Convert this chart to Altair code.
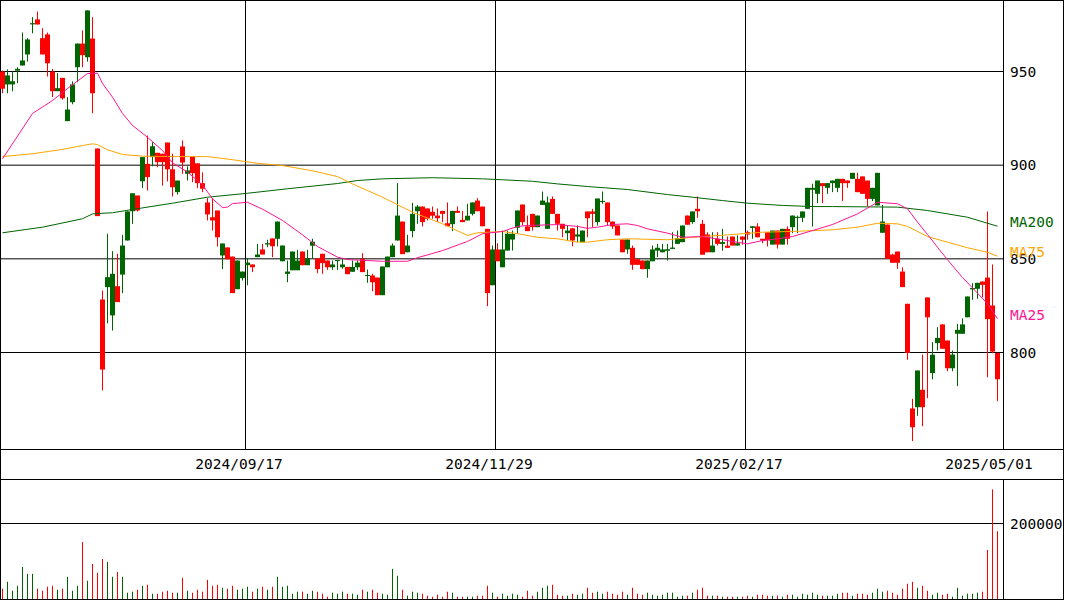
import altair as alt
import numpy as np
import pandas as pd

# Daily quotes, one row per trading session (2024-07-08 ... 2025-05-01)
open_ = [
    950.0, 943.1, 943.1, 950.5, 953.2, 959.1, 975.3, 977.8, 967.8, 969.8,
    950.0, 939.5, 946.6, 923.5, 933.6, 952.3, 964.9, 957.6, 967.6, 908.9,
    828.3, 834.9, 819.8, 835.4, 841.6, 859.8, 875.4, 883.8, 891.4, 900.7,
    904.3, 906.6, 906.1, 912.1, 897.8, 885.6, 910.0, 895.4, 904.6, 901.0,
    890.4, 880.1, 872.2, 875.8, 851.8, 856.1, 851.2, 833.8, 839.7, 846.6,
    847.0, 850.9, 855.0, 857.8, 860.9, 860.7, 848.7, 842.0, 843.9, 843.9,
    853.9, 846.6, 857.0, 850.2, 852.7, 849.1, 845.5, 848.9, 845.5, 845.7,
    843.1, 845.5, 850.0, 840.9, 841.1, 840.0, 830.6, 845.5, 850.9, 859.8,
    869.9, 853.5, 864.8, 875.4, 877.9, 876.9, 875.1, 873.1, 875.6, 869.0,
    868.5, 875.6, 870.8, 870.5, 874.0, 881.1, 877.9, 866.0, 835.9, 855.0,
    845.5, 854.4, 860.3, 866.6, 879.0, 867.3, 874.0, 866.9, 878.8, 866.0,
    882.0, 874.0, 868.7, 863.7, 866.3, 861.9, 858.9, 875.3, 875.3, 869.6,
    880.5, 880.1, 869.9, 867.8, 860.3, 855.0, 855.9, 849.8, 849.1, 844.5,
    848.7, 854.4, 853.5, 854.4, 855.4, 858.0, 858.9, 873.1, 869.6, 876.7,
    868.7, 863.0, 853.5, 860.7, 858.0, 857.0, 861.9, 857.1, 861.9, 864.2,
    866.6, 867.3, 860.7, 864.2, 857.6, 865.1, 857.6, 866.0, 866.9, 872.0,
    871.9, 876.7, 886.9, 884.7, 890.4, 887.9, 890.4, 887.9, 892.7, 891.8,
    892.7, 892.7, 894.0, 891.8, 882.0, 878.5, 863.9, 868.3, 852.3, 853.9,
    843.2, 826.0, 770.1, 770.8, 780.1, 829.4, 789.0, 805.0, 815.0, 806.4,
    791.6, 810.0, 810.0, 818.8, 833.8, 834.0, 837.9, 840.0, 825.1, 799.8,
]
high = [
    950.5, 951.1, 950.0, 952.3, 970.8, 967.8, 979.0, 982.0, 973.1, 970.8,
    951.4, 949.1, 946.6, 936.3, 944.7, 964.9, 971.9, 982.6, 979.0, 908.9,
    833.1, 863.4, 854.1, 852.7, 862.8, 875.3, 885.0, 883.8, 904.3, 915.8,
    912.3, 906.6, 906.1, 912.1, 906.1, 891.8, 913.2, 899.4, 904.6, 901.0,
    896.2, 882.4, 882.4, 875.8, 858.2, 856.1, 851.2, 849.1, 843.2, 850.3,
    847.0, 858.0, 858.0, 860.2, 860.9, 869.9, 857.1, 849.1, 853.9, 854.8,
    853.9, 854.8, 860.7, 850.2, 852.7, 849.1, 849.1, 849.2, 850.0, 845.7,
    849.1, 849.1, 853.0, 844.3, 842.0, 840.0, 845.9, 851.2, 858.2, 890.4,
    869.9, 862.8, 879.9, 878.8, 877.9, 876.9, 877.9, 876.9, 875.6, 880.1,
    875.6, 877.9, 875.6, 879.4, 880.1, 882.4, 877.9, 866.0, 857.1, 858.3,
    865.1, 865.1, 865.1, 875.8, 879.0, 873.1, 874.0, 873.1, 885.9, 883.3,
    883.3, 874.0, 868.7, 867.8, 866.3, 867.8, 865.1, 875.3, 876.7, 882.2,
    885.9, 880.1, 869.9, 867.8, 860.3, 860.3, 857.1, 849.8, 849.1, 849.1,
    857.1, 858.0, 858.0, 858.0, 864.2, 865.1, 867.8, 873.1, 875.3, 883.3,
    870.8, 864.2, 864.2, 864.2, 866.0, 861.9, 861.9, 862.5, 861.9, 865.1,
    867.3, 869.0, 860.7, 864.2, 865.1, 865.1, 866.0, 867.3, 873.1, 873.1,
    875.3, 887.9, 890.1, 891.8, 890.4, 890.4, 891.8, 892.7, 892.7, 891.8,
    895.9, 895.9, 894.0, 891.8, 887.9, 895.9, 878.8, 868.3, 852.7, 853.9,
    845.5, 826.0, 775.3, 790.4, 798.9, 829.4, 805.5, 813.5, 815.0, 806.4,
    801.1, 815.3, 818.2, 829.9, 837.0, 837.2, 837.9, 875.3, 847.0, 799.8,
]
low = [
    938.4, 938.4, 939.5, 943.8, 953.2, 955.3, 970.4, 975.1, 959.1, 947.3,
    936.3, 939.5, 934.9, 923.5, 932.5, 944.3, 952.3, 955.3, 927.7, 872.8,
    779.7, 815.6, 811.7, 826.9, 831.7, 859.8, 868.7, 875.3, 887.7, 886.5,
    899.4, 898.9, 889.1, 891.3, 883.3, 884.3, 895.4, 891.8, 890.9, 887.7,
    885.6, 870.5, 865.1, 856.6, 844.5, 849.8, 831.7, 833.8, 838.4, 835.9,
    842.9, 850.9, 852.3, 856.2, 850.9, 856.6, 848.7, 837.5, 843.9, 843.9,
    846.6, 846.6, 850.2, 842.3, 842.0, 844.1, 844.1, 844.1, 844.7, 841.8,
    843.1, 844.1, 842.9, 837.2, 832.7, 830.6, 830.6, 845.5, 850.9, 859.8,
    852.5, 853.5, 861.5, 868.7, 867.3, 870.5, 871.4, 869.6, 869.6, 867.4,
    864.8, 874.6, 869.6, 870.5, 873.1, 875.4, 867.4, 824.7, 835.9, 848.7,
    845.5, 854.4, 854.4, 863.4, 867.8, 864.8, 865.1, 866.9, 878.8, 866.0,
    874.0, 865.1, 861.5, 859.8, 856.7, 858.9, 858.9, 861.5, 866.9, 867.8,
    879.4, 867.8, 866.0, 862.5, 853.5, 852.7, 844.1, 846.8, 844.5, 839.9,
    848.7, 850.9, 853.5, 849.1, 855.4, 858.0, 858.9, 868.2, 868.7, 871.9,
    852.2, 853.5, 853.5, 857.1, 854.4, 855.9, 857.1, 857.1, 857.6, 860.2,
    860.7, 861.5, 858.3, 856.6, 857.6, 855.5, 857.6, 857.6, 863.7, 863.7,
    869.6, 876.7, 867.3, 879.7, 879.7, 884.7, 885.6, 885.6, 880.8, 887.9,
    892.7, 885.6, 884.7, 878.1, 880.8, 878.5, 863.9, 850.0, 847.9, 844.7,
    834.9, 796.1, 752.7, 766.2, 760.7, 775.6, 785.7, 801.1, 802.0, 790.0,
    790.0, 782.0, 810.0, 818.8, 828.1, 828.7, 829.5, 786.8, 799.6, 774.0,
]
close = [
    940.8, 947.9, 944.8, 951.4, 955.9, 967.1, 975.6, 975.1, 959.1, 954.4,
    939.5, 941.1, 935.7, 929.7, 943.1, 964.9, 958.7, 982.6, 938.4, 872.8,
    790.9, 840.2, 842.0, 826.9, 857.1, 875.3, 885.0, 875.8, 904.3, 893.6,
    910.1, 901.6, 901.6, 897.8, 888.2, 891.8, 901.4, 897.2, 895.7, 890.4,
    887.4, 873.7, 870.5, 861.5, 858.2, 849.8, 831.7, 849.1, 843.2, 848.0,
    845.5, 852.3, 852.3, 858.2, 856.7, 869.9, 857.1, 843.2, 853.9, 849.1,
    846.6, 850.2, 859.1, 844.5, 847.7, 845.5, 847.0, 849.2, 847.0, 841.8,
    845.7, 848.0, 842.9, 841.3, 837.5, 830.6, 845.9, 851.2, 857.1, 873.1,
    852.5, 857.1, 874.0, 877.9, 869.6, 871.4, 873.0, 871.7, 874.0, 867.4,
    875.6, 874.6, 869.6, 873.0, 880.1, 875.4, 867.4, 831.7, 855.0, 848.7,
    855.0, 863.4, 863.4, 875.8, 869.6, 864.8, 866.9, 873.1, 881.1, 880.1,
    874.0, 868.7, 866.0, 865.1, 859.8, 863.0, 865.1, 871.7, 874.0, 882.2,
    880.8, 869.6, 867.3, 862.5, 853.5, 860.3, 846.8, 846.8, 844.5, 849.1,
    855.0, 855.9, 855.0, 855.0, 855.9, 861.0, 867.8, 868.2, 875.3, 875.4,
    852.2, 853.5, 857.1, 858.0, 858.9, 855.9, 857.1, 858.3, 860.2, 863.0,
    867.3, 861.5, 859.8, 859.8, 865.1, 857.6, 866.0, 860.7, 873.1, 872.3,
    875.3, 887.9, 887.9, 891.8, 888.8, 890.4, 891.8, 892.7, 890.4, 890.4,
    895.9, 885.6, 884.7, 882.0, 887.9, 895.9, 869.9, 850.0, 847.9, 847.9,
    834.9, 799.8, 760.1, 790.4, 770.8, 818.8, 798.8, 807.8, 802.0, 791.6,
    798.9, 812.1, 815.0, 829.9, 834.3, 837.2, 836.1, 817.8, 800.5, 785.7,
]
volume = [
    27200, 45600, 21900, 35100, 85100, 66700, 66700, 27200, 21900, 32500,
    35100, 24600, 27200, 58800, 21900, 35100, 150900, 48200, 93000, 69300,
    106200, 98300, 58800, 71900, 58800, 16700, 19300, 24600, 35100, 37700,
    14000, 14000, 19300, 21900, 16700, 16700, 56200, 21900, 16700, 24600,
    19300, 50900, 35100, 37700, 29800, 27200, 35100, 24600, 27200, 32500,
    19300, 27200, 32500, 24600, 32500, 58800, 32500, 35100, 14000, 19300,
    19300, 14000, 21900, 19300, 14000, 6100, 16700, 14000, 19300, 14000,
    14000, 11400, 24600, 19300, 24600, 16700, 14000, 11400, 79800, 61400,
    24600, 8800, 19300, 16700, 14000, 8800, 6100, 11400, 6100, 19300,
    16700, 6100, 6100, 6100, 6100, 8800, 8800, 35100, 16700, 6100,
    14000, 8800, 14000, 11400, 6100, 21900, 8800, 19300, 29800, 35100,
    37700, 11400, 8800, 8800, 14000, 11400, 14000, 29800, 16700, 19300,
    14000, 19300, 14000, 11400, 19300, 11400, 29800, 14000, 11400, 16700,
    11400, 8800, 11400, 16700, 16700, 6100, 8800, 8800, 16700, 24600,
    29800, 8800, 8800, 8800, 6100, 6100, 6100, 6100, 6100, 8800,
    6100, 11400, 11400, 8800, 8800, 8800, 6100, 11400, 11400, 6100,
    14000, 11400, 16700, 11400, 8800, 8800, 8800, 14000, 16700, 16700,
    8800, 14000, 14000, 11400, 16700, 27200, 19300, 21900, 16700, 11400,
    27200, 40400, 45600, 29800, 35100, 21900, 11400, 16700, 11400, 14000,
    6100, 29800, 8800, 14000, 14000, 16700, 19300, 129800, 290400, 179800,
]

# Moving averages: (session index, value)
ma25_idx = [0, 6, 10, 13, 17, 19, 20, 22, 24, 26, 29, 32, 34, 37, 40, 42, 44, 45,
            46, 49, 52, 56, 60, 63, 67, 69, 76, 81, 83, 88, 93, 96, 100, 103, 105,
            111, 115, 117, 119, 122, 125, 127, 129, 133, 136, 140, 144, 149, 152,
            155, 158, 162, 166, 171, 175, 179, 181, 183, 185, 187, 189, 192, 194,
            197, 199]
ma25_val = [903.4, 927.6, 934.5, 940.9, 948.9, 949.1, 943.6, 936.3, 927.6, 921.2,
            914.9, 907.8, 901.3, 896.3, 889.5, 882.0, 877.4, 877.6, 879.5, 880.2,
            876.5, 870.5, 862.8, 856.6, 850.9, 849.6, 848.7, 848.7, 850.6, 854.4,
            859.3, 863.4, 864.6, 867.3, 867.8, 868.3, 867.3, 866.3, 866.9, 868.3,
            868.7, 867.8, 866.0, 863.7, 861.5, 861.9, 860.2, 858.0, 859.8, 860.7,
            861.9, 865.1, 868.3, 874.0, 880.2, 879.4, 876.7, 869.6, 863.0, 856.2,
            849.5, 840.0, 834.5, 826.0, 818.0]
ma75_idx = [0, 6, 12, 16, 18, 19, 21, 24, 28, 34, 41, 46, 51, 56, 62, 67, 70, 76,
            82, 88, 93, 95, 100, 103, 107, 111, 115, 117, 121, 125, 133, 138, 145,
            152, 160, 166, 171, 175, 179, 181, 185, 189, 193, 197, 199]
ma75_val = [904.6, 906.1, 908.4, 910.5, 911.4, 911.0, 908.2, 905.7, 904.8, 904.6,
            904.6, 902.9, 901.0, 899.8, 897.0, 893.9, 890.0, 882.9, 874.9, 868.7,
            862.5, 863.9, 864.6, 863.4, 861.5, 860.7, 858.9, 858.9, 860.2, 860.7,
            860.2, 861.5, 862.8, 864.2, 864.8, 865.5, 866.9, 869.0, 868.7, 867.3,
            861.9, 858.9, 855.9, 853.5, 851.4]
ma200_idx = [0, 8, 16, 18, 22, 28, 34, 41, 49, 57, 67, 71, 76, 86, 96, 100, 106,
             111, 117, 125, 133, 138, 144, 149, 156, 162, 166, 179, 185, 193, 199]
ma200_val = [863.9, 866.9, 871.4, 874.0, 874.6, 877.2, 879.7, 882.9, 885.0, 887.4,
             890.2, 891.8, 892.7, 893.3, 892.7, 892.2, 891.4, 890.0, 888.6, 887.0,
             884.3, 882.9, 881.1, 879.7, 878.5, 877.9, 877.9, 877.6, 875.8, 872.2,
             867.4]

# Axis labels
date_idx = [49, 99, 149, 199]
date_text = ["2024/09/17", "2024/11/29", "2025/02/17", "2025/05/01"]
price_ticks = [950, 900, 850, 800]
volume_ticks = [200000]

UP = "#006400"
DOWN = "#FF0000"
C_MA25 = "#FF1493"
C_MA75 = "#FFA500"
C_MA200 = "#006400"
FONT = "DejaVu Sans Mono"
FS = 14.5

n = len(close)
df = pd.DataFrame({"i": np.arange(n), "open": open_, "high": high, "low": low,
                   "close": close, "volume": volume})
df["left"] = df["i"]
df["right"] = df["i"] + 1
df["mid"] = df["i"] + 0.5
df["body_mid"] = (df["open"] + df["close"]) / 2
df["base"] = 0
df["dir"] = np.where(df["close"] >= df["open"], "up", "down")

x_scale = alt.Scale(domain=[0, 200], range=[0, 1000], zero=False, nice=False)
price_scale = alt.Scale(domain=[800, 950], range=[352.5, 71.5], zero=False, nice=False)
vol_scale = alt.Scale(domain=[0, 200000], range=[599, 523.5], zero=False, nice=False)
color_scale = alt.Scale(domain=["up", "down"], range=[UP, DOWN])
col = alt.Color("dir:N", scale=color_scale, legend=None)

one = pd.DataFrame({"k": [0]})


def seg(x, x2, y, y2):
    return alt.Chart(one).mark_rule(color="black", strokeWidth=1).encode(
        x=alt.value(x), x2=alt.value(x2), y=alt.value(y), y2=alt.value(y2))


# frame
frame = [
    seg(0, 1064, 0.5, 0.5),
    seg(0, 1064, 449.5, 449.5),
    seg(0, 1064, 479.5, 479.5),
    seg(0, 1064, 599.5, 599.5),
    seg(0.5, 0.5, 0, 600),
    seg(1063.5, 1063.5, 0, 600),
    seg(1003.5, 1003.5, 0, 449.5),
    seg(1003.5, 1003.5, 479.5, 600),
]

# price grid
pgrid = alt.Chart(pd.DataFrame({"p": price_ticks})).mark_rule(
    color="black", strokeWidth=1).encode(
    x=alt.value(0), x2=alt.value(1003.5),
    y=alt.Y("p:Q", scale=price_scale, axis=None))

vgrid_df = pd.DataFrame({"d": date_idx[:3]})
vgrid = alt.Chart(vgrid_df).transform_calculate(
    xp="datum.d + 0.1").mark_rule(color="black", strokeWidth=1).encode(
    x=alt.X("xp:Q", scale=x_scale, axis=None),
    y=alt.value(0), y2=alt.value(449.5))

volgrid = alt.Chart(pd.DataFrame({"v": volume_ticks})).mark_rule(
    color="black", strokeWidth=1).encode(
    x=alt.value(0), x2=alt.value(1003.5),
    y=alt.Y("v:Q", scale=vol_scale, axis=None))

base = alt.Chart(df)

wicks = base.mark_rule(strokeWidth=1).encode(
    x=alt.X("mid:Q", scale=x_scale, axis=None),
    y=alt.Y("low:Q", scale=price_scale, axis=None),
    y2="high:Q", color=col)

bodies = base.mark_bar(cornerRadius=0).encode(
    x=alt.X("left:Q", scale=x_scale, axis=None), x2="right:Q",
    y=alt.Y("open:Q", scale=price_scale, axis=None), y2="close:Q",
    color=col)

doji = base.mark_rule(strokeWidth=1).encode(
    x=alt.X("left:Q", scale=x_scale, axis=None), x2="right:Q",
    y=alt.Y("body_mid:Q", scale=price_scale, axis=None), color=col)

vols = base.mark_rule(strokeWidth=1).encode(
    x=alt.X("mid:Q", scale=x_scale, axis=None),
    y=alt.Y("volume:Q", scale=vol_scale, axis=None), y2="base:Q",
    color=col)


def ma_line(idx, val, color):
    d = pd.DataFrame({"i": idx, "v": val})
    d["x"] = d["i"] + 0.5
    return alt.Chart(d).mark_line(color=color, strokeWidth=1).encode(
        x=alt.X("x:Q", scale=x_scale, axis=None),
        y=alt.Y("v:Q", scale=price_scale, axis=None))


ma200 = ma_line(ma200_idx, ma200_val, C_MA200)
ma75 = ma_line(ma75_idx, ma75_val, C_MA75)
ma25 = ma_line(ma25_idx, ma25_val, C_MA25)

price_lbl = alt.Chart(pd.DataFrame({"p": price_ticks, "t": [str(v) for v in price_ticks]})).mark_text(
    font=FONT, fontSize=FS, align="left", baseline="middle", color="black", dy=1).encode(
    x=alt.value(1010), y=alt.Y("p:Q", scale=price_scale, axis=None), text="t:N")

vol_lbl = alt.Chart(pd.DataFrame({"v": volume_ticks, "t": [str(v) for v in volume_ticks]})).mark_text(
    font=FONT, fontSize=FS, align="left", baseline="middle", color="black", dy=1).encode(
    x=alt.value(1010), y=alt.Y("v:Q", scale=vol_scale, axis=None), text="t:N")

date_lbl = alt.Chart(pd.DataFrame({"d": date_idx, "t": date_text})).mark_text(
    font=FONT, fontSize=FS, align="center", baseline="middle", color="black", dx=-6).encode(
    x=alt.X("d:Q", scale=x_scale, axis=None), y=alt.value(465), text="t:N")


def ma_label(name, val, color):
    return alt.Chart(pd.DataFrame({"v": [val], "t": [name]})).mark_text(
        font=FONT, fontSize=FS, align="left", baseline="middle", color=color, dy=-3).encode(
        x=alt.value(1010), y=alt.Y("v:Q", scale=price_scale, axis=None), text="t:N")


ma_lbls = [
    ma_label("MA200", ma200_val[-1], C_MA200),
    ma_label("MA75", ma75_val[-1], C_MA75),
    ma_label("MA25", ma25_val[-1], C_MA25),
]

chart = alt.layer(
    pgrid, vgrid, volgrid, *frame,
    wicks, bodies, doji, vols,
    ma200, ma75, ma25,
    price_lbl, vol_lbl, date_lbl, *ma_lbls,
).resolve_scale(y="independent").properties(
    width=1065, height=600,
    autosize=alt.AutoSizeParams(type="none"),
    padding=0, background="white",
).configure_view(stroke=None)

chart.save("out.html", embed_options={"renderer": "svg", "actions": False})
